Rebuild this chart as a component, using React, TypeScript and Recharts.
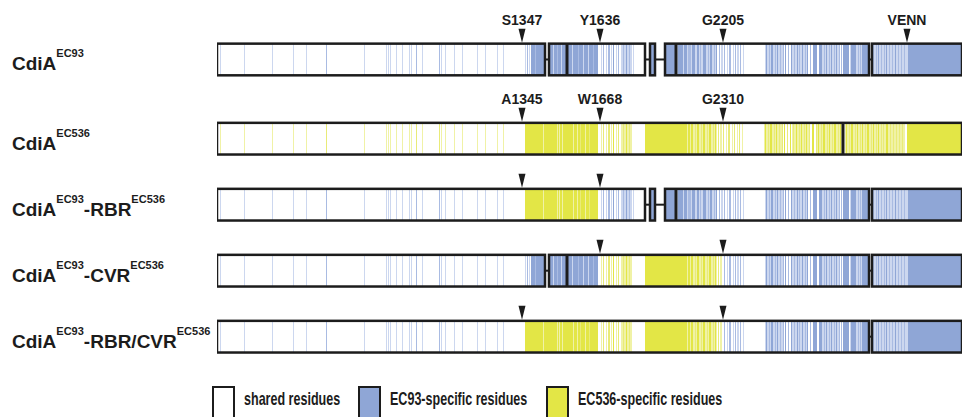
import React from 'react';
import { ScatterChart, XAxis, YAxis, Scatter, Legend } from 'recharts';

// x values are alignment columns (0..745 across the full-length CdiA)
type Run = [number, number, number]; // [start, end, tone] tone: 0 light, 1 mid, 2 full

// columns that differ between the two parents in the N-terminal region (same in both)
const sharedColumns: [number, number][] = [
  [3, 0], [27, 0], [55, 0], [76, 0], [89, 0], [109, 1], [147, 0], [169, 0], [171, 0], [173, 0],
  [179, 0], [185, 0], [192, 0], [194, 0], [199, 1], [205, 0], [222, 1], [224, 0], [228, 0],
  [237, 0], [245, 0], [260, 0], [268, 0], [280, 0], [286, 0],
];

// drawn in order: background tints first, stripes on top
const ec93Runs: Run[] = [
  [308, 309, 0], [310, 311, 1], [312, 313, 0], [314, 328, 2], [318, 319, 1],
  [332, 350, 2], [336, 337, 0], [340, 341, 1], [344, 345, 0],
  [350, 381, 2], [355, 356, 0], [361, 362, 1], [366, 367, 0], [371, 372, 0], [376, 377, 1],
  [384, 385, 0], [386, 387, 1], [389, 390, 0], [391, 393, 1], [394, 395, 0], [396, 397, 2], [399, 400, 0],
  [401, 402, 1], [404, 415, 0], [406, 407, 1], [409, 410, 2], [412, 413, 1], [416, 417, 0],
  [433, 438, 2],
  [448, 459, 2],
  [460, 500, 0],
  [461, 466, 2], [467, 470, 2], [471, 474, 1], [475, 478, 2], [480, 482, 2], [483, 484, 1], [486, 489, 2],
  [491, 492, 1], [493, 495, 2], [497, 498, 1], [499, 500, 2],
  [502, 503, 1], [504, 506, 0], [507, 508, 1], [510, 511, 0], [512, 514, 1], [516, 517, 0], [518, 519, 1],
  [520, 522, 0], [523, 524, 1], [526, 527, 0],
  [548, 566, 0], [575, 590, 0], [605, 622, 0], [633, 652, 0],
  [549, 550, 2], [552, 553, 1], [554, 556, 2], [558, 559, 1], [560, 561, 2], [563, 564, 1], [566, 567, 1],
  [568, 569, 2], [571, 572, 1], [574, 575, 2], [577, 578, 1], [580, 581, 2], [582, 583, 1], [585, 586, 2],
  [588, 589, 1], [590, 591, 2], [593, 594, 1], [596, 600, 2], [602, 605, 2], [607, 608, 1], [609, 610, 2],
  [612, 613, 1], [614, 615, 2], [617, 618, 1], [619, 620, 2], [622, 623, 1], [624, 625, 1],
  [626, 632, 2], [634, 639, 2], [641, 642, 1], [643, 644, 1], [645, 651, 2],
  [655, 691, 0],
  [656, 657, 1], [659, 660, 1], [661, 662, 2], [664, 665, 1], [667, 668, 1], [669, 670, 2], [672, 673, 1],
  [675, 676, 1], [678, 679, 2], [681, 682, 1], [684, 685, 1], [687, 688, 1],
  [691, 745, 2],
];

const ec536Runs: Run[] = [
  [308, 381, 2], [326, 327, 0], [340, 341, 0], [342, 343, 0], [345, 346, 0], [356, 357, 0],
  [360, 361, 0], [363, 364, 1], [368, 369, 0], [372, 373, 1],
  [384, 385, 0], [386, 387, 1], [389, 390, 0], [391, 393, 1], [394, 395, 0], [396, 397, 2], [399, 400, 0],
  [401, 402, 1], [404, 415, 0], [406, 407, 1], [409, 410, 2], [412, 413, 1],
  [428, 470, 2],
  [470, 500, 0],
  [471, 473, 2], [474, 476, 2], [478, 479, 1], [480, 482, 2], [484, 485, 1], [486, 488, 2], [490, 491, 1],
  [492, 494, 2], [496, 497, 1], [498, 499, 2],
  [501, 502, 1], [503, 505, 0], [506, 507, 1], [509, 510, 0], [511, 513, 1], [515, 516, 0], [517, 518, 1],
  [520, 521, 0], [522, 523, 1], [525, 526, 0],
  [547, 566, 0], [575, 592, 0], [600, 626, 0],
  [548, 549, 2], [551, 552, 1], [553, 555, 2], [557, 558, 1], [559, 560, 2], [562, 563, 1], [565, 566, 1],
  [567, 568, 2], [570, 571, 1], [573, 574, 2], [576, 577, 1], [579, 580, 2], [582, 583, 1], [584, 585, 2],
  [587, 588, 1], [589, 590, 2], [592, 593, 1], [595, 597, 2], [599, 600, 1], [601, 602, 2], [604, 605, 1],
  [606, 608, 2], [610, 611, 1], [612, 613, 2], [615, 616, 1], [617, 619, 2], [621, 622, 1], [623, 624, 2],
  [628, 688, 0],
  [629, 630, 2], [632, 633, 1], [634, 636, 2], [638, 639, 1], [640, 641, 2], [643, 644, 1], [645, 646, 2],
  [648, 649, 1], [650, 652, 2], [654, 655, 1], [656, 657, 2], [659, 660, 1], [661, 662, 2], [664, 665, 1],
  [666, 667, 1], [669, 671, 2], [673, 674, 1], [676, 677, 1], [679, 680, 1], [682, 683, 1], [685, 686, 1],
  [690, 745, 2],
];

// constructs, top to bottom
const rowLabels: string[][] = [
  ['CdiA', 'EC93'],
  ['CdiA', 'EC536'],
  ['CdiA', 'EC93', '-RBR', 'EC536'],
  ['CdiA', 'EC93', '-CVR', 'EC536'],
  ['CdiA', 'EC93', '-RBR/CVR', 'EC536'],
];
const rowSources: [number, number, string][][] = [
  [[0, 745, 'EC93']],
  [[0, 745, 'EC536']],
  [[0, 305, 'EC93'], [305, 383, 'EC536'], [383, 745, 'EC93']],
  [[0, 383, 'EC93'], [383, 506, 'EC536'], [506, 745, 'EC93']],
  [[0, 305, 'EC93'], [305, 506, 'EC536'], [506, 745, 'EC93']],
];
const rowSegments: [number, number][][] = [
  [[0, 328], [332, 428], [433, 438], [448, 652], [655, 745]],
  [[0, 745]],
  [[0, 428], [433, 438], [448, 652], [655, 745]],
  [[0, 328], [332, 652], [655, 745]],
  [[0, 652], [655, 745]],
];
const rowDividers: number[][] = [[350, 459], [626], [459], [350], []];
const markerCols: number[][] = [[305, 383, 506, 690], [305, 383, 506], [305, 383], [383, 506], [305, 506]];
const markerNames: string[][] = [['S1347', 'Y1636', 'G2205', 'VENN'], ['A1345', 'W1668', 'G2310'], [], [], []];

const legendNames = ['shared residues', 'EC93-specific residues', 'EC536-specific residues'];

// layout
const CHART_W = 960;
const CHART_H = 409;
const MARGIN = { top: 0, right: 6, bottom: 13, left: 9 };
const AXIS_W = 200;
const X_DOMAIN: [number, number] = [0, 745];
const Y_DOMAIN: [number, number] = [-0.78, 5.22];
const ROW_POS = [0, 1.2, 2.2, 3.2, 4.2];
const PLOT_W = CHART_W - MARGIN.left - MARGIN.right - AXIS_W;
const PLOT_H = CHART_H - MARGIN.top - MARGIN.bottom;
const PX_PER_COL = PLOT_W / (X_DOMAIN[1] - X_DOMAIN[0]);
const BAR_PX = 0.48 * PLOT_H / (Y_DOMAIN[1] - Y_DOMAIN[0]);

const FONT = '"Liberation Sans", Arial, Helvetica, sans-serif';
const INK = '#1c1c1c';
const PALETTE: Record<string, string[]> = {
  EC93: ['#ccd7ef', '#a9bbe2', '#8fa6d6'],
  EC536: ['#f0f2a6', '#e9eb78', '#e3e646'],
};
const legendFills = ['#ffffff', PALETTE.EC93[2], PALETTE.EC536[2]];

const runsFor = (src: string): Run[] => [
  ...sharedColumns.map(([c, t]) => [c, c + 1, t] as Run),
  ...(src === 'EC93' ? ec93Runs : ec536Runs),
];
const clip = (s: number, e: number, a: number, b: number) => [Math.max(s, a), Math.min(e, b)];

// one table of stripes, kept in drawing order
const stripeData: { x: number; y: number; w: number; src: string; t: number }[] = [];
rowSources.forEach((sources, r) => {
  sources.forEach(([a, b, src]) => {
    runsFor(src).forEach(([s, e, t]) => {
      const [s1, e1] = clip(s, e, a, b);
      rowSegments[r].forEach(([ga, gb]) => {
        const [s2, e2] = clip(s1, e1, ga, gb);
        if (e2 > s2) stripeData.push({ x: s2, y: ROW_POS[r], w: e2 - s2, src, t });
      });
    });
  });
});

const segmentData = rowSegments.flatMap((segs, r) => segs.map(([a, b]) => ({ x: a, y: ROW_POS[r], w: b - a })));
const linkerData = rowSegments.flatMap((segs, r) =>
  segs.slice(1).map(([a], i) => ({ x: segs[i][1], y: ROW_POS[r], w: a - segs[i][1] }))
);
const dividerData = rowDividers.flatMap((ds, r) => ds.map((d) => ({ x: d, y: ROW_POS[r], w: 0 })));
const markerData = markerCols.flatMap((cols, r) =>
  cols.map((c, k) => ({ x: c, y: ROW_POS[r], w: 0, label: markerNames[r][k] || '' }))
);

const Stripe = ({ cx, cy, payload }: any) => (
  <rect x={cx} y={cy - BAR_PX / 2} width={payload.w * PX_PER_COL} height={BAR_PX}
    fill={PALETTE[payload.src][payload.t]} />
);
const Outline = ({ cx, cy, payload }: any) => (
  <rect x={cx} y={cy - BAR_PX / 2} width={payload.w * PX_PER_COL} height={BAR_PX} fill="none" stroke={INK} strokeWidth={2.5} />
);
const Linker = ({ cx, cy, payload }: any) => (
  <line x1={cx} x2={cx + payload.w * PX_PER_COL} y1={cy} y2={cy} stroke={INK} strokeWidth={2} />
);
const Divider = ({ cx, cy }: any) => (
  <line x1={cx} x2={cx} y1={cy - BAR_PX / 2} y2={cy + BAR_PX / 2} stroke={INK} strokeWidth={3} />
);
const Marker = ({ cx, cy, payload }: any) => {
  const top = cy - BAR_PX / 2;
  return (
    <g>
      <path d={`M${cx - 3.5},${top - 15}L${cx + 3.5},${top - 15}L${cx},${top - 1}Z`} fill={INK} />
      {payload.label ? (
        <text x={cx} y={top - 18.5} textAnchor="middle" fontFamily={FONT} fontWeight="bold" fontSize={14} fill={INK}>
          {payload.label}
        </text>
      ) : null}
    </g>
  );
};

const RowLabel = ({ y, payload }: any) => {
  const i = ROW_POS.indexOf(payload.value);
  if (i < 0) return null;
  return (
    <text x={4} y={y + 11} fontFamily={FONT} fontWeight="bold" fill={INK} fontSize={19}>
      {rowLabels[i].map((p, k) =>
        k % 2 === 1 ? (
          <tspan key={k} fontSize={11} dy={-13}>{p}</tspan>
        ) : (
          <tspan key={k} dy={k === 0 ? 0 : 13}>{p}</tspan>
        )
      )}
    </text>
  );
};

const LegendBox = () => (
  <div style={{ display: 'flex', fontFamily: FONT, fontWeight: 'bold', color: INK }}>
    {legendNames.map((n, i) => (
      <div key={n} style={{ display: 'flex', alignItems: 'flex-start', width: i === 0 ? 146 : 188 }}>
        <div style={{ width: 19, height: 34, border: `2px solid ${INK}`, background: legendFills[i], flex: 'none' }} />
        <span style={{ marginLeft: 9, marginTop: 2, fontSize: 19, whiteSpace: 'nowrap', display: 'inline-block', transform: 'scaleX(0.66)', transformOrigin: 'left' }}>
          {n}
        </span>
      </div>
    ))}
  </div>
);

export default function App() {
  return (
    <div style={{ width: CHART_W, height: CHART_H }}>
      <ScatterChart width={CHART_W} height={CHART_H} margin={MARGIN}>
        <XAxis type="number" dataKey="x" domain={X_DOMAIN} allowDataOverflow hide />
        <YAxis type="number" dataKey="y" domain={Y_DOMAIN} allowDataOverflow reversed ticks={ROW_POS}
          interval={0} width={AXIS_W} axisLine={false} tickLine={false} tickSize={0}
          tick={(p: any) => <RowLabel {...p} />} />
        <Scatter name="stripes" data={stripeData} isAnimationActive={false} shape={(p: any) => <Stripe {...p} />} />
        <Scatter name="segments" data={segmentData} isAnimationActive={false} shape={(p: any) => <Outline {...p} />} />
        <Scatter name="linkers" data={linkerData} isAnimationActive={false} shape={(p: any) => <Linker {...p} />} />
        <Scatter name="dividers" data={dividerData} isAnimationActive={false} shape={(p: any) => <Divider {...p} />} />
        <Scatter name="markers" data={markerData} isAnimationActive={false} shape={(p: any) => <Marker {...p} />} />
        {/* centred + middle keeps the legend out of the plot offset */}
        <Legend layout="horizontal" verticalAlign="middle" align="center"
          wrapperStyle={{ top: 378, left: 204, width: 760 }} content={() => <LegendBox />} />
      </ScatterChart>
    </div>
  );
}
